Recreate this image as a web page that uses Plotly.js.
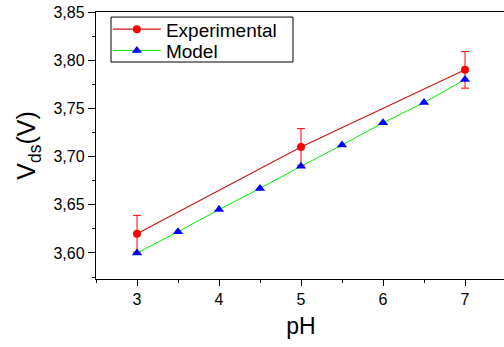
<!DOCTYPE html>
<html><head><meta charset="utf-8">
<script src="https://cdn.plot.ly/plotly-3.0.1.min.js"></script>
<style>html,body{margin:0;padding:0;overflow:hidden;background:#fff;width:504px;height:347px}</style>
</head><body><div id="chart"></div>
<script>
const expX = [3, 5, 7];
const expY = [3.62, 3.71, 3.79];
const expErr = [0.019, 0.019, 0.019];
const modelX = [3, 3.5, 4, 4.5, 5, 5.5, 6, 6.5, 7];
const modelY = [3.60, 3.622, 3.645, 3.667, 3.69, 3.712, 3.735, 3.756, 3.78];
const xTicks = [3, 4, 5, 6, 7];
const yTicks = [3.60, 3.65, 3.70, 3.75, 3.80, 3.85];

const font = "Liberation Sans, Arial, sans-serif";
const traces = [
  {x: expX, y: expY, name: 'Experimental', type: 'scatter', mode: 'lines+markers', legend: 'legend',
   line: {color: '#cc1515', width: 1.2},
   marker: {color: '#ff0000', size: 8, symbol: 'circle'},
   error_y: {type: 'data', array: expErr, visible: true, color: '#ff0000', thickness: 1, width: 4}},
  {x: modelX, y: modelY, name: 'Model', type: 'scatter', mode: 'lines+markers', legend: 'legend2',
   line: {color: '#00ee00', width: 1},
   marker: {color: '#0000ff', size: 9, symbol: 'triangle-up'}}
];
const legendCommon = {xanchor: 'left', yanchor: 'middle', bgcolor: 'rgba(0,0,0,0)', borderwidth: 0,
  font: {family: font, size: 19, color: '#000'}, itemwidth: 48};
const layout = {
  width: 510, height: 347,
  margin: {l: 96, r: 4, t: 12, b: 68},
  paper_bgcolor: '#fff', plot_bgcolor: '#fff',
  font: {family: font, color: '#000', size: 16},
  separators: ',.',
  showlegend: true,
  legend: Object.assign({x: 0.029, y: 0.935}, legendCommon),
  legend2: Object.assign({x: 0.029, y: 0.855}, legendCommon),
  shapes: [{type: 'rect', xref: 'paper', yref: 'paper', x0: 0.0366, x1: 0.4805, y0: 0.8127, y1: 0.981,
    line: {color: '#000', width: 1}, fillcolor: '#fff', layer: 'below'}],
  xaxis: {range: [2.5, 7.5], tickvals: xTicks, ticktext: xTicks.map(String),
    showgrid: false, zeroline: false, showline: true, linecolor: '#000', linewidth: 1.2,
    mirror: true, ticks: 'outside', ticklen: 6, tickwidth: 1, tickcolor: '#000',
    minor: {dtick: 0.5, ticks: 'outside', ticklen: 3, tickwidth: 1, tickcolor: '#000', showgrid: false},
    tickfont: {size: 16},
    title: {text: 'pH', font: {size: 23}, standoff: 10}},
  yaxis: {range: [3.573, 3.85], tickvals: yTicks, tickformat: '.2f',
    showgrid: false, zeroline: false, showline: true, linecolor: '#000', linewidth: 1.2,
    mirror: true, ticks: 'outside', ticklen: 7, tickwidth: 1, tickcolor: '#000',
    minor: {dtick: 0.025, ticks: 'outside', ticklen: 3, tickwidth: 1, tickcolor: '#000', showgrid: false},
    tickfont: {size: 16},
    title: {text: 'V<sub>ds</sub>(V)', font: {size: 25}, standoff: 10}}
};
Plotly.newPlot('chart', traces, layout, {displayModeBar: false, staticPlot: true});
</script></body></html>
